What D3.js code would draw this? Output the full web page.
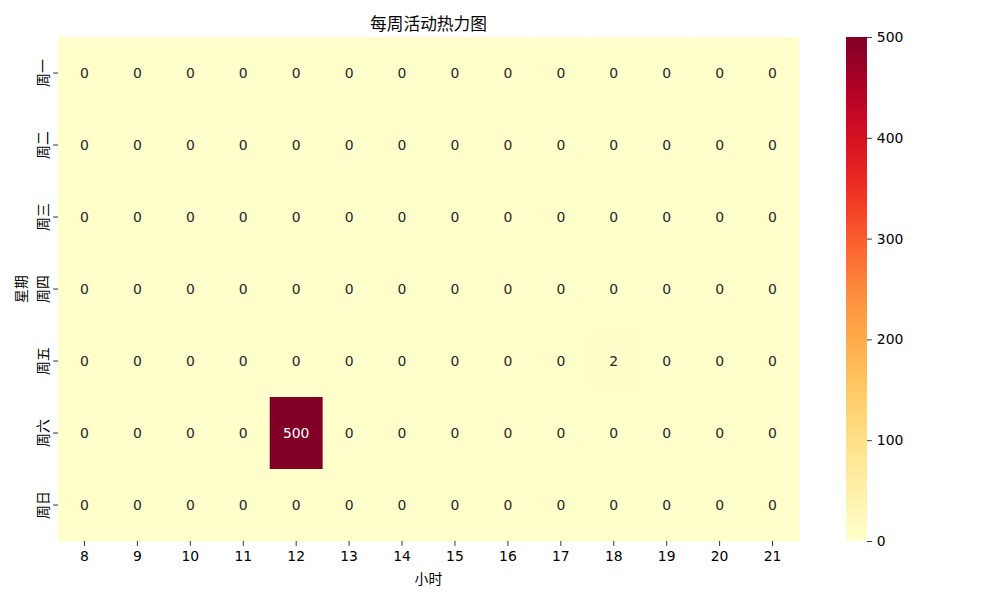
<!DOCTYPE html>
<html>
<head>
<meta charset="utf-8">
<script src="https://cdn.jsdelivr.net/npm/d3@7"></script>
<style>
body{margin:0;background:#fff;}
text{font-family:"DejaVu Sans","Noto Sans CJK SC",sans-serif;}
</style>
</head>
<body>
<svg id="chart" width="1000" height="600"></svg>
<script>
const hours = [8,9,10,11,12,13,14,15,16,17,18,19,20,21];
const days = ["周一","周二","周三","周四","周五","周六","周日"];
const values = [
  [0,0,0,0,0,0,0,0,0,0,0,0,0,0],
  [0,0,0,0,0,0,0,0,0,0,0,0,0,0],
  [0,0,0,0,0,0,0,0,0,0,0,0,0,0],
  [0,0,0,0,0,0,0,0,0,0,0,0,0,0],
  [0,0,0,0,0,0,0,0,0,0,2,0,0,0],
  [0,0,0,0,500,0,0,0,0,0,0,0,0,0],
  [0,0,0,0,0,0,0,0,0,0,0,0,0,0]
];
const title = "每周活动热力图";
const xLabel = "小时";
const yLabel = "星期";
const cbTicks = [0,100,200,300,400,500];

const svg = d3.select("#chart");
const L = 58, R = 799, T = 37, B = 541;
const x = d3.scaleBand().domain(hours).range([L,R]);
const y = d3.scaleBand().domain(days).range([T,B]);
const color = d3.scaleSequential(d3.interpolateYlOrRd).domain([0,500]);

const cells = [];
values.forEach((row,i)=>row.forEach((v,j)=>cells.push({d:days[i],h:hours[j],v})));

svg.append("g").selectAll("rect").data(cells).join("rect")
  .attr("x",c=>x(c.h)).attr("y",c=>y(c.d))
  .attr("width",x.bandwidth()+0.5).attr("height",y.bandwidth()+0.5)
  .attr("fill",c=>color(c.v));

svg.append("g").selectAll("text").data(cells).join("text")
  .attr("x",c=>x(c.h)+x.bandwidth()/2).attr("y",c=>y(c.d)+y.bandwidth()/2)
  .attr("text-anchor","middle").attr("dominant-baseline","central")
  .attr("font-size","13.9px")
  .attr("fill",c=>c.v>250?"#ffffff":"#262626")
  .text(c=>c.v);

// axes
const xAxis = svg.append("g").attr("transform",`translate(0,${B})`)
  .call(d3.axisBottom(x).tickSize(4.9).tickPadding(4.9));
xAxis.select(".domain").remove();
xAxis.selectAll("text").attr("font-size","13.9px").attr("fill","#000").style("font-family","DejaVu Sans");
xAxis.selectAll("line").attr("stroke","#000").attr("stroke-width",0.8);

const yAxis = svg.append("g").attr("transform",`translate(${L},0)`)
  .call(d3.axisLeft(y).tickSize(4.9).tickPadding(4.9));
yAxis.select(".domain").remove();
yAxis.selectAll("line").attr("stroke","#000").attr("stroke-width",0.8);
yAxis.selectAll("text")
  .attr("font-size","13.9px").attr("fill","#000")
  .style("font-family","Noto Sans CJK SC")
  .attr("x",null).attr("dy",null)
  .attr("text-anchor","middle")
  .attr("dominant-baseline","central")
  .attr("transform","translate(-16,0) rotate(-90)");

// labels
svg.append("text").attr("x",(L+R)/2).attr("y",23).attr("text-anchor","middle")
  .attr("dominant-baseline","central").attr("font-size","16.7px")
  .style("font-family","Noto Sans CJK SC").text(title);
svg.append("text").attr("x",(L+R)/2).attr("y",578).attr("text-anchor","middle")
  .attr("dominant-baseline","central").attr("font-size","13.9px")
  .style("font-family","Noto Sans CJK SC").text(xLabel);
svg.append("text").attr("transform",`translate(20,${(T+B)/2}) rotate(-90)`)
  .attr("text-anchor","middle").attr("dominant-baseline","central").attr("font-size","13.9px")
  .style("font-family","Noto Sans CJK SC").text(yLabel);

// colorbar
const cbX = 846, cbW = 21;
const defs = svg.append("defs");
const grad = defs.append("linearGradient").attr("id","cbg")
  .attr("x1","0").attr("y1","1").attr("x2","0").attr("y2","0");
d3.range(0,1.0001,0.05).forEach(t=>grad.append("stop")
  .attr("offset",t).attr("stop-color",d3.interpolateYlOrRd(t)));
svg.append("rect").attr("x",cbX).attr("y",T).attr("width",cbW).attr("height",B-T)
  .attr("fill","url(#cbg)");
const cy = d3.scaleLinear().domain([0,500]).range([B,T]);
const cbAxis = svg.append("g").attr("transform",`translate(${cbX+cbW},0)`)
  .call(d3.axisRight(cy).tickValues(cbTicks).tickSize(4.9).tickPadding(4.9));
cbAxis.select(".domain").remove();
cbAxis.selectAll("line").attr("stroke","#000").attr("stroke-width",0.8);
cbAxis.selectAll("text").attr("font-size","13.9px").attr("fill","#000").style("font-family","DejaVu Sans");
</script>
</body>
</html>
